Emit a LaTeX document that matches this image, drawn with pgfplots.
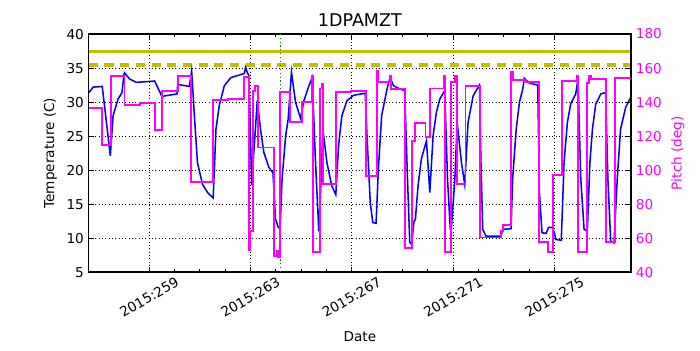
\documentclass[border=0pt]{standalone}
\usepackage{pgfplots}
\pgfplotsset{compat=1.18}
\usepackage{fontspec}
\setmainfont{DejaVu Sans}
\definecolor{mplolive}{rgb}{0.75,0.75,0}
\definecolor{mplgreen}{rgb}{0,0.5,0}
\definecolor{mplmagenta}{rgb}{1,0,1}
\definecolor{mplblue}{rgb}{0,0,1}

% temperature (day of 2015, deg C)
\pgfplotstableread{
day T
256.63 31.4
256.79 32.2
257.15 32.3
257.24 29.5
257.47 22.1
257.58 28.0
257.77 30.4
257.93 31.4
258.01 34.1
258.03 34.3
258.23 33.4
258.50 32.9
258.89 33.0
259.22 33.1
259.31 32.4
259.52 30.7
259.60 30.9
260.10 31.2
260.13 32.6
260.59 32.3
260.68 34.6
260.78 28.5
260.91 21.1
261.11 17.9
261.31 16.7
261.53 15.9
261.64 26.0
261.77 29.5
261.97 32.4
262.23 33.6
262.76 34.2
262.81 35.1
262.87 34.4
262.94 33.9
263.05 17.8
263.27 30.2
263.40 26.0
263.53 22.6
263.73 20.4
263.89 19.6
263.99 12.8
264.10 11.6
264.17 11.4
264.25 18.7
264.39 25.0
264.49 27.5
264.62 34.4
264.78 30.0
264.98 27.6
265.11 30.2
265.31 32.4
265.44 33.6
265.57 21.1
265.70 11.0
265.79 18.7
265.86 26.0
266.02 21.1
266.21 17.7
266.37 16.4
266.48 23.6
266.61 28.0
266.81 30.2
267.07 31.0
267.53 31.3
267.59 26.0
267.73 15.2
267.83 12.3
267.96 12.2
268.05 20.1
268.18 28.0
268.38 31.7
268.51 33.6
268.65 32.4
268.91 31.9
269.09 31.7
269.20 18.7
269.29 9.4
269.36 9.1
269.46 12.5
269.51 12.7
269.62 17.8
269.75 21.7
269.95 24.3
270.08 16.7
270.21 25.0
270.34 28.5
270.47 30.4
270.67 31.7
270.78 18.7
270.89 11.3
270.93 11.3
271.07 18.7
271.16 27.0
271.33 21.1
271.46 17.9
271.59 27.0
271.79 30.9
271.99 32.2
272.04 32.5
272.10 21.1
272.17 11.3
272.30 10.3
272.89 10.3
272.96 11.3
273.29 11.4
273.35 18.7
273.49 26.0
273.62 30.0
273.75 31.9
273.81 33.5
274.01 32.8
274.34 32.5
274.41 16.6
274.51 10.8
274.67 10.7
274.77 11.6
274.91 11.6
275.00 10.8
275.05 9.8
275.27 9.7
275.38 21.1
275.51 27.0
275.64 29.7
275.84 31.2
275.93 33.4
276.04 18.7
276.17 11.3
276.30 11.1
276.40 21.1
276.50 26.0
276.63 29.7
276.83 31.2
277.02 31.4
277.11 18.7
277.22 9.6
277.35 9.3
277.48 18.7
277.61 26.0
277.81 29.2
278.01 30.7
}\temptable

% pitch (day, deg), held until next row
\pgfplotstableread{
day P
256.63 136.8
257.15 115
257.51 155.6
258.03 138.2
258.63 139.4
259.24 123.6
259.51 146.3
260.13 155.1
260.65 92.9
261.53 141.4
262.10 142
262.73 155
262.93 53
263.00 64
263.11 146.7
263.18 149.3
263.31 113.3
263.93 49.6
264.06 52.5
264.10 48.8
264.16 146
264.58 128.4
265.02 140
265.41 155.6
265.46 51.6
265.73 148
265.82 150.6
265.88 91.6
266.37 145.7
266.96 146.6
267.56 96.7
267.99 158.4
268.05 152
268.51 155.6
268.55 147.6
269.12 54
269.38 117.3
269.49 127.5
269.91 119.2
270.08 148
270.63 155.6
270.67 51.6
270.93 151.6
271.09 155.2
271.16 91.6
271.49 149.6
272.07 60.4
272.89 64.4
272.96 67.8
273.29 157.5
273.35 152.9
273.88 151.6
274.38 58
274.73 52
274.93 97
275.31 152.5
275.90 155.6
275.94 52
276.30 151.2
276.36 155.6
276.43 153.4
277.05 57.6
277.38 154
278.02 154
}\pitchtable

\pgfplotsset{
  common/.style={
    scale only axis,
    width=390.2pt, height=171.4pt,
    at={(0,0)}, anchor=south west,
    xmin=256.62, xmax=278.02,
    axis line style={line width=1pt},
    tick style={black, line width=0.6pt},
    major tick length=4pt, minor tick length=2pt,
    tick align=inside,
    /pgf/number format/assume math mode=true,
    tick label style={font=\fontsize{9.8}{11}\selectfont},
    label style={font=\fontsize{9.8}{11}\selectfont},
  },
}

\begin{document}
\begin{tikzpicture}
\useasboundingbox (-63.9pt,-56.2pt) rectangle (439.9pt,195.9pt);
\begin{axis}[
  common,
  ymin=5, ymax=40,
  ytick={5,10,...,40},
  ytick pos=left,
  xtick={259,263,267,271,275},
  xticklabels={2015:259,2015:263,2015:267,2015:271,2015:275},
  minor x tick num=3,
  xtick pos=both,
  xticklabel style={anchor=center, yshift=-18pt, rotate=30},
  grid=major,
  major grid style={black, dotted, line width=0.5pt},
  xlabel={Date},
  xlabel style={yshift=-2pt},
  ylabel={Temperature (C)},
  title={1DPAMZT},
  title style={font=\fontsize{12.6}{14}\selectfont, yshift=-4pt},
]
\addplot[mplolive, line width=2.2pt, forget plot] coordinates {(256.62,37.5) (278.02,37.5)};
\addplot[mplolive, line width=2.2pt, dash pattern=on 6.5pt off 4.8pt, forget plot] coordinates {(256.62,35.45) (278.02,35.45)};
\addplot[mplgreen, dotted, line width=0.8pt] coordinates {(264.17,5) (264.17,40)};
\addplot[mplblue, line width=1.1pt] table[x=day, y=T] {\temptable};
\end{axis}
\begin{axis}[
  common,
  ymin=40, ymax=180,
  ytick={40,60,...,180},
  axis y line*=right,
  axis x line=none,
  yticklabel style={mplmagenta},
  ylabel={Pitch (deg)},
  ylabel style={mplmagenta},
]
\addplot[mplmagenta, line width=1.4pt, const plot] table[x=day, y=P] {\pitchtable};
\end{axis}
\end{tikzpicture}
\end{document}
